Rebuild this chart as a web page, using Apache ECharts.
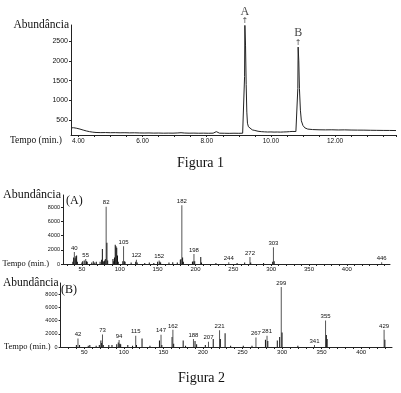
<!DOCTYPE html>
<html>
<head>
<meta charset="utf-8">
<script src="https://cdn.jsdelivr.net/npm/echarts@6/dist/echarts.min.js"></script>
<style>html,body{margin:0;padding:0;background:#fff}#c{width:401px;height:393px}</style>
</head>
<body>
<div id="c"></div>
<script>
// ---- Figura 1: chromatogram ----
const chromTime = [3.77,3.85,3.95,4.05,4.15,4.25,4.35,4.45,4.55,4.7,4.85,5.0,5.15,5.3,5.45,5.6,5.75,5.9,6.05,6.2,6.35,6.5,6.65,6.8,6.95,7.1,7.2,7.3,7.45,7.6,7.75,7.9,8.05,8.2,8.26,8.3,8.34,8.4,8.55,8.7,8.85,9.0,9.12,9.16,9.18,9.19,9.21,9.23,9.25,9.27,9.3,9.35,9.42,9.5,9.6,9.7,9.8,9.9,10.0,10.1,10.2,10.3,10.4,10.5,10.58,10.62,10.66,10.72,10.78,10.82,10.84,10.85,10.87,10.89,10.92,10.95,11.0,11.06,11.15,11.3,11.5,11.7,11.9,12.1,12.3,12.5,12.7,12.9,13.1,13.3,13.5,13.7,13.9];
const chromAbund = [300,305,290,270,245,222,205,192,184,180,182,178,180,176,178,174,176,172,170,172,168,170,166,168,167,172,178,170,166,168,165,167,164,166,180,205,180,166,164,162,165,163,165,200,1600,2900,2400,1400,700,420,330,280,250,235,215,205,200,196,198,194,196,193,197,200,205,245,210,205,208,230,1300,2350,2000,1300,750,480,360,300,270,258,252,250,252,248,250,246,244,243,240,238,236,235,233];
const chromXLabels = [4,6,8,10,12];
const chromYLabels = [500,1000,1500,2000,2500];
const peakNames = ['A','B'];
const peakTimes = [9.19,10.85];
const peakAbund = [2900,2350];

// ---- Figura 2 (A) ----
const specAmz  = [38,39,40,41,42,43,44,50,51,53,55,56,57,63,65,67,69,74,76,77,78,79,80,81,82,83,84,91,92,93,94,95,96,97,98,104,105,106,107,115,121,122,123,133,139,145,150,152,153,154,165,170,176,180,181,182,183,184,196,197,198,199,207,208,227,244,255,265,272,273,290,302,303,304,446];
const specAval = [300,900,1700,800,1100,1200,300,200,400,500,700,400,300,200,400,200,300,300,600,2100,400,300,500,700,8050,3000,500,700,400,900,2700,2500,2300,1200,300,400,2500,400,300,200,300,600,200,150,200,150,300,500,300,200,200,250,200,600,700,8250,900,300,300,400,1400,400,1000,200,150,250,150,200,1000,200,150,300,2350,400,250];
const specALabeled = [40,55,82,105,122,152,182,198,244,272,303,446];

// ---- Figura 2 (B) ----
const specBmz  = [40,42,44,55,57,65,69,71,72,73,74,81,85,91,93,94,95,96,105,111,115,116,123,133,145,147,148,161,162,163,175,178,188,190,192,203,207,213,221,222,228,235,251,262,267,279,281,282,294,297,299,300,320,341,355,356,357,429,430];
const specBval = [300,1300,300,200,300,200,300,1000,600,1900,300,300,300,400,700,1050,500,400,300,200,1700,300,1300,200,1000,1850,300,1500,2600,500,1000,200,1200,900,400,300,800,1200,2550,1200,2100,200,200,200,1450,1100,1700,900,1000,1500,9100,2200,200,300,4000,1800,1200,2600,1100];
const specBLabeled = [42,73,94,115,147,162,188,207,221,267,281,299,341,355,429];

const specXLabels = [50,100,150,200,250,300,350,400];
const specYLabels = [0,2000,4000,6000,8000];

function range(a, b, step) { const r = []; for (let v = a; v <= b + 1e-9; v += step) r.push(+v.toFixed(3)); return r; }

const SERIF = 'Liberation Serif';
const SANS = 'Liberation Sans';
const INK = '#111';

function specData(mz, val, labeled) {
  return mz.map((m, i) => {
    const lab = labeled.indexOf(m) >= 0;
    return {
      value: [m, val[i]],
      itemStyle: { color: lab ? '#555' : '#111' },
      label: { show: lab }
    };
  });
}

const axisLineStyle = { lineStyle: { color: '#222', width: 1 } };

function yAxisCommon(gridIndex, min, max, labels, fontSize, nameSize) {
  return {
    type: 'value', gridIndex, min, max,
    name: 'Abundância', nameLocation: 'end', nameGap: 0,
    nameTextStyle: { fontFamily: SERIF, fontSize: nameSize, color: INK, align: 'right', verticalAlign: 'middle', padding: [0, 2, 0, 0] },
    axisLine: Object.assign({ show: true }, axisLineStyle),
    axisTick: { show: true, length: 2, customValues: labels, lineStyle: { color: '#222' } },
    axisLabel: { customValues: labels, formatter: v => String(v), fontFamily: SANS, fontSize, color: INK, margin: 3 },
    splitLine: { show: false }
  };
}

const option = {
  animation: false,
  backgroundColor: '#fff',
  title: [
    { text: 'Figura 1', left: 'center', top: 156, padding: 0, textStyle: { fontFamily: SERIF, fontSize: 14, fontWeight: 'normal', color: INK } },
    { text: 'Figura 2', left: 178, top: 371, padding: 0, textStyle: { fontFamily: SERIF, fontSize: 14, fontWeight: 'normal', color: INK } },
    { text: '(A)', left: 66, top: 195, padding: 0, textStyle: { fontFamily: SERIF, fontSize: 12, fontWeight: 'normal', color: INK } },
    { text: '(B)', left: 61, top: 284, padding: 0, textStyle: { fontFamily: SERIF, fontSize: 12, fontWeight: 'normal', color: INK } }
  ],
  grid: [
    { left: 71, top: 25, right: 5, bottom: 258 },
    { left: 63, top: 195, right: 11, bottom: 129 },
    { left: 56, top: 283, right: 9, bottom: 46 }
  ],
  xAxis: [
    {
      type: 'value', gridIndex: 0, min: 3.77, max: 13.9,
      name: 'Tempo (min.)', nameLocation: 'start', nameGap: 9,
      nameTextStyle: { fontFamily: SERIF, fontSize: 9.5, color: INK, verticalAlign: 'top', lineHeight: 11 },
      axisLine: axisLineStyle,
      axisTick: { show: true, length: 2, customValues: range(4, 13.5, 0.5).concat([13.9]), lineStyle: { color: '#222' } },
      axisLabel: { customValues: chromXLabels, formatter: v => v.toFixed(2), fontFamily: SANS, fontSize: 6.5, color: INK, margin: 3 },
      splitLine: { show: false }
    },
    {
      type: 'value', gridIndex: 1, min: 25, max: 457,
      name: 'Tempo (min.)', nameLocation: 'start', nameGap: 14,
      nameTextStyle: { fontFamily: SERIF, fontSize: 8.5, color: INK, verticalAlign: 'middle' },
      axisLine: axisLineStyle,
      axisTick: { show: true, length: 2, customValues: range(30, 450, 10), lineStyle: { color: '#222' } },
      axisLabel: { customValues: specXLabels, formatter: v => String(v), fontFamily: SANS, fontSize: 6, color: INK, margin: 2 },
      splitLine: { show: false }
    },
    {
      type: 'value', gridIndex: 2, min: 20, max: 439,
      name: 'Tempo (min.)', nameLocation: 'start', nameGap: 9,
      nameTextStyle: { fontFamily: SERIF, fontSize: 8.5, color: INK, verticalAlign: 'middle' },
      axisLine: axisLineStyle,
      axisTick: { show: true, length: 2, customValues: range(30, 430, 10), lineStyle: { color: '#222' } },
      axisLabel: { customValues: specXLabels, formatter: v => String(v), fontFamily: SANS, fontSize: 6, color: INK, margin: 2 },
      splitLine: { show: false }
    }
  ],
  yAxis: [
    yAxisCommon(0, 120, 2910, chromYLabels, 7, 11.5),
    yAxisCommon(1, 0, 9700, specYLabels, 5.5, 12),
    yAxisCommon(2, 0, 9700, specYLabels, 5.5, 11.5)
  ],
  series: [
    {
      type: 'line', xAxisIndex: 0, yAxisIndex: 0, showSymbol: false, symbol: 'none',
      data: chromTime.map((t, i) => [t, chromAbund[i]]),
      lineStyle: { color: '#222', width: 1 }
    },
    {
      type: 'scatter', xAxisIndex: 0, yAxisIndex: 0, symbolSize: 0, clip: false,
      data: peakTimes.map((t, i) => ({ value: [t, peakAbund[i]], name: peakNames[i] })),
      label: {
        show: true, position: 'top', distance: 0,
        formatter: p => '{n|' + p.name + '}\n{a|↑}',
        rich: {
          n: { fontFamily: SERIF, fontSize: 12, color: INK, lineHeight: 12 },
          a: { fontFamily: 'DejaVu Sans', fontSize: 8, color: INK, lineHeight: 8 }
        }
      }
    },
    {
      type: 'bar', xAxisIndex: 1, yAxisIndex: 1, barWidth: 1,
      data: specData(specAmz, specAval, specALabeled),
      label: { position: 'top', distance: 1, formatter: p => p.value[0], fontFamily: SANS, fontSize: 6, color: INK }
    },
    {
      type: 'bar', xAxisIndex: 2, yAxisIndex: 2, barWidth: 1,
      data: specData(specBmz, specBval, specBLabeled),
      label: { position: 'top', distance: 1, formatter: p => p.value[0], fontFamily: SANS, fontSize: 6, color: INK }
    }
  ]
};

const chart = echarts.init(document.getElementById('c'), null, { renderer: 'canvas' });
chart.setOption(option);
</script>
</body>
</html>
